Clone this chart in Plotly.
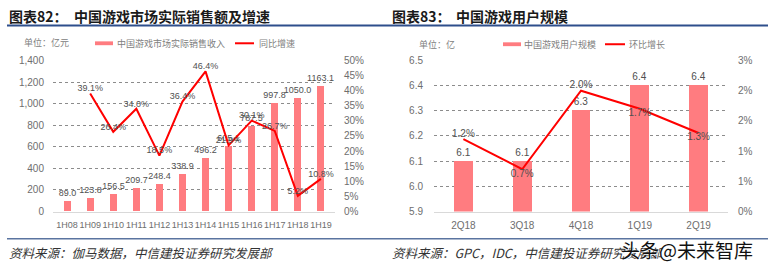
import plotly.graph_objects as go

W, H = 770, 272

# ---------------- data ----------------
periods = ["1H08", "1H09", "1H10", "1H11", "1H12", "1H13", "1H14", "1H15", "1H16", "1H17", "1H18", "1H19"]
revenue = [89.0, 123.8, 156.5, 209.7, 248.4, 338.9, 496.2, 605.1, 787.5, 997.8, 1050.0, 1163.1]
growth = [None, 0.391, 0.264, 0.340, 0.185, 0.364, 0.464, 0.219, 0.301, 0.267, 0.052, 0.108]
rev_tickvals = [0, 200, 400, 600, 800, 1000, 1200, 1400]
rev_ticktext = ["0", "200", "400", "600", "800", "1,000", "1,200", "1,400"]

quarters = ["2Q18", "3Q18", "4Q18", "1Q19", "2Q19"]
users = [6.1, 6.1, 6.3, 6.4, 6.4]
qoq = [0.012, 0.007, 0.020, 0.017, 0.013]
user_tickvals = [5.9, 6.0, 6.1, 6.2, 6.3, 6.4, 6.5]
qoq_tickvals = [0, 0.005, 0.010, 0.015, 0.020, 0.025]
qoq_ticktext = ["0%", "1%", "1%", "2%", "2%", "3%"]

# ---------------- style ----------------
BAR = "#FF7C80"
LINE = "#FF0000"
TICK = dict(family="Liberation Sans, Arial", size=10, color="#6E6E6E")
TICK9 = dict(family="Liberation Sans, Arial", size=9, color="#6E6E6E")
LBL = dict(family="Liberation Sans, Arial", size=10, color="#505050")
LBL9 = dict(family="Liberation Sans, Arial", size=9, color="#505050")
CJK = "Noto Sans CJK SC"


def px(x):
    return x / W


def py(y):
    return 1 - y / H


fig = go.Figure()

# chart 1
fig.add_trace(go.Bar(x=periods, y=revenue, width=0.3, marker_color=BAR, marker_line_width=0,
                     text=[f"{v:.1f}" for v in revenue], textposition="outside",
                     constraintext="none", textfont=LBL9, cliponaxis=False,
                     xaxis="x", yaxis="y", showlegend=False))
fig.add_trace(go.Scatter(x=periods, y=growth, mode="lines+text", line=dict(color=LINE, width=2),
                         text=["" if g is None else f"{g*100:.1f}%" for g in growth],
                         textposition="top center", textfont=LBL9, cliponaxis=False,
                         xaxis="x", yaxis="y2", showlegend=False))

# chart 2
fig.add_trace(go.Bar(x=quarters, y=users, width=0.32, marker_color=BAR, marker_line_width=0,
                     text=[f"{v:.1f}" for v in users], textposition="outside",
                     constraintext="none", textfont=LBL, cliponaxis=False,
                     xaxis="x3", yaxis="y3", showlegend=False))
fig.add_trace(go.Scatter(x=quarters, y=qoq, mode="lines+text", line=dict(color=LINE, width=2),
                         text=[f"{g*100:.1f}%" for g in qoq],
                         textposition=["top center", "bottom center", "top center", "bottom center", "bottom center"],
                         textfont=LBL, cliponaxis=False,
                         xaxis="x3", yaxis="y4", showlegend=False))

ydom = [py(215), py(57)]
grid = dict(showgrid=True, gridcolor="#8C8C8C", griddash="dot", gridwidth=1, zeroline=False)

fig.update_layout(
    width=W, height=H, margin=dict(l=0, r=0, t=0, b=0),
    paper_bgcolor="white", plot_bgcolor="white",
    bargap=0,
    xaxis=dict(domain=[px(53), px(335)], tickfont=TICK9, showline=True, linecolor="#D9D9D9",
               ticks="", tickangle=0, ticklabelstandoff=5, fixedrange=True),
    yaxis=dict(domain=ydom, range=[0, 1400], tickvals=rev_tickvals, ticktext=rev_ticktext,
               tickfont=TICK, ticklabelstandoff=8, **grid),
    yaxis2=dict(overlaying="y", side="right", range=[0, 0.5], tickvals=[i * 0.05 for i in range(11)],
                ticktext=[f"{i*5}%" for i in range(11)], tickfont=TICK, showgrid=False,
                zeroline=False, ticklabelstandoff=8, anchor="x"),
    xaxis3=dict(domain=[px(434), px(728)], tickfont=TICK, showline=True, linecolor="#D9D9D9",
                ticks="", tickangle=0, ticklabelstandoff=4, anchor="y3"),
    yaxis3=dict(domain=ydom, range=[5.9, 6.5], tickvals=user_tickvals,
                ticktext=[f"{v:.1f}" for v in user_tickvals], tickfont=TICK, ticklabelstandoff=10,
                anchor="x3", **grid),
    yaxis4=dict(overlaying="y3", side="right", range=[0, 0.025], tickvals=qoq_tickvals,
                ticktext=qoq_ticktext, tickfont=TICK, showgrid=False, zeroline=False,
                ticklabelstandoff=9, anchor="x3"),
)

shapes = [
    # title rule
    dict(type="line", xref="paper", yref="paper", x0=px(7), x1=px(768), y0=py(20.5), y1=py(20.5),
         line=dict(color="#2E4F8C", width=2)),
    # footer rule
    dict(type="line", xref="paper", yref="paper", x0=px(7), x1=px(768), y0=py(243.5), y1=py(243.5),
         line=dict(color="#5A74A0", width=1.3)),
    # legend chart 1
    dict(type="rect", xref="paper", yref="paper", x0=px(95), x1=px(113), y0=py(41), y1=py(37),
         fillcolor=BAR, line_width=0),
    dict(type="line", xref="paper", yref="paper", x0=px(235), x1=px(254), y0=py(39), y1=py(39),
         line=dict(color=LINE, width=2)),
    # legend chart 2
    dict(type="rect", xref="paper", yref="paper", x0=px(503), x1=px(521), y0=py(42), y1=py(38),
         fillcolor=BAR, line_width=0),
    dict(type="line", xref="paper", yref="paper", x0=px(605), x1=px(625), y0=py(40), y1=py(40),
         line=dict(color=LINE, width=2)),
]
fig.update_layout(shapes=shapes)

LEG = dict(family=CJK, size=9, color="#808080")


def ann(text, x, y, font, xanchor="left"):
    return dict(text=text, x=px(x), y=py(y), xref="paper", yref="paper", showarrow=False,
                xanchor=xanchor, yanchor="middle", font=font)


TITLE = dict(family=CJK, size=14, color="#1A1A1A")
FOOT = dict(family=CJK, size=12.5, color="#333333")

anns = [
    ann("<b>图表82：</b>", 7, 10, TITLE),
    ann("<b>中国游戏市场实际销售额及增速</b>", 72, 10, TITLE),
    ann("<b>图表83：</b>", 390, 10, TITLE),
    ann("<b>中国游戏用户规模</b>", 454, 10, TITLE),
    ann("单位：亿元", 22, 38, LEG),
    ann("中国游戏市场实际销售收入", 115, 39, LEG),
    ann("同比增速", 257, 39, LEG),
    ann("单位：亿", 417, 40, LEG),
    ann("中国游戏用户规模", 522, 40, LEG),
    ann("环比增长", 627, 40, LEG),
    ann("<i>资料来源：伽马数据，中信建投证券研究发展部</i>", 7, 258, FOOT),
    ann("<i>资料来源：GPC，IDC，中信建投证券研究发展部</i>", 390, 258, FOOT),
    ann("头条@未来智库", 619, 255, dict(family=CJK, size=19, color="#111111",
                                      shadow="1px 1px 1px white")),
]
fig.update_layout(annotations=anns)

fig.write_html("out.html")
